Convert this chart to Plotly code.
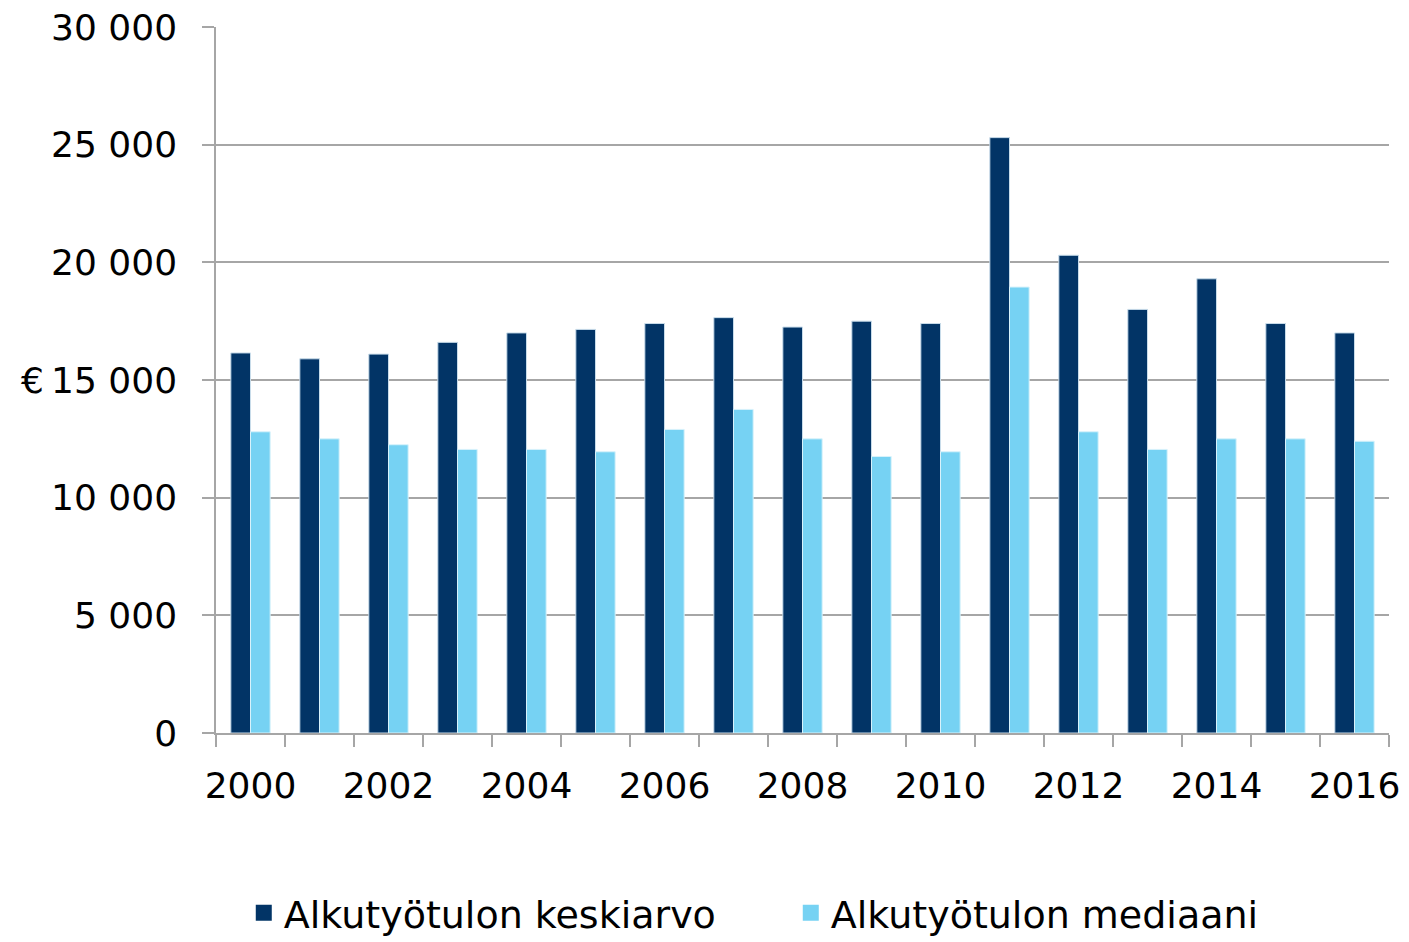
import plotly.graph_objects as go

years = [str(y) for y in range(2000, 2017)]
keskiarvo = [16150, 15900, 16100, 16600, 17000, 17150, 17400, 17650, 17250, 17500,
             17400, 25300, 20300, 18000, 19300, 17400, 17000]
mediaani = [12800, 12500, 12250, 12050, 12050, 11950, 12900, 13750, 12500, 11750,
            11950, 18950, 12800, 12050, 12500, 12500, 12400]
series_names = ["Alkutyötulon keskiarvo", "Alkutyötulon mediaani"]
tick_labels = [y if int(y) % 2 == 0 else "" for y in years]
y_ticks = [0, 5000, 10000, 15000, 20000, 25000, 30000]
y_tick_text = ["0", "5 000", "10 000", "15 000", "20 000", "25 000", "30 000"]

FONT = "DejaVu Sans"
GRID = "#a6a6a6"
DARK = "#023466"
LIGHT = "#76D2F3"

fig = go.Figure()
fig.add_trace(go.Bar(x=years, y=keskiarvo, name=series_names[0], showlegend=False,
                     marker=dict(color=DARK, line=dict(color="#c8dcea", width=1))))
fig.add_trace(go.Bar(x=years, y=mediaani, name=series_names[1], showlegend=False,
                     marker=dict(color=LIGHT, line=dict(color="#d8f2fb", width=1))))
# legend entries with larger square swatches
for name, col in zip(series_names, [DARK, LIGHT]):
    fig.add_trace(go.Scatter(x=[None], y=[None], mode="markers", name=name,
                             marker=dict(symbol="square", size=20, color=col)))

fig.update_layout(
    width=1401, height=934,
    margin=dict(l=208, r=20, t=19, b=209, autoexpand=False),
    plot_bgcolor="white", paper_bgcolor="white",
    barmode="group", bargap=0.43, bargroupgap=0,
    font=dict(family=FONT, size=36, color="#000000"),
    showlegend=True,
    legend=dict(orientation="h", x=0.49, xanchor="center", y=-0.255, yanchor="middle",
                font=dict(family=FONT, size=38), itemsizing="trace",
                traceorder="normal", entrywidth=502, itemwidth=30),
)

fig.update_xaxes(
    type="category", tickvals=years, ticktext=tick_labels, tickson="boundaries",
    ticks="outside", ticklen=12, tickwidth=1.5, tickcolor=GRID, tickangle=0,
    showline=True, linecolor=GRID, linewidth=1.5, showgrid=False, automargin=False,
    tickfont=dict(family=FONT, size=36), ticklabelstandoff=20,
    ticklabeloverflow="allow",
)
fig.update_yaxes(
    range=[0, 30000], tickvals=y_ticks, ticktext=y_tick_text,
    ticks="outside", ticklen=12, tickwidth=1.5, tickcolor=GRID,
    showline=True, linecolor=GRID, linewidth=1.5, automargin=False,
    showgrid=True, gridcolor=GRID, gridwidth=1.5, zeroline=False,
    tickfont=dict(family=FONT, size=36), ticklabelstandoff=18,
    ticklabeloverflow="allow",
)

fig.add_annotation(text="€", xref="paper", yref="y", x=0, y=15000,
                   xanchor="right", yanchor="middle", xshift=-170, showarrow=False,
                   font=dict(family=FONT, size=36, color="#000000"))

fig.write_html("out.html")
